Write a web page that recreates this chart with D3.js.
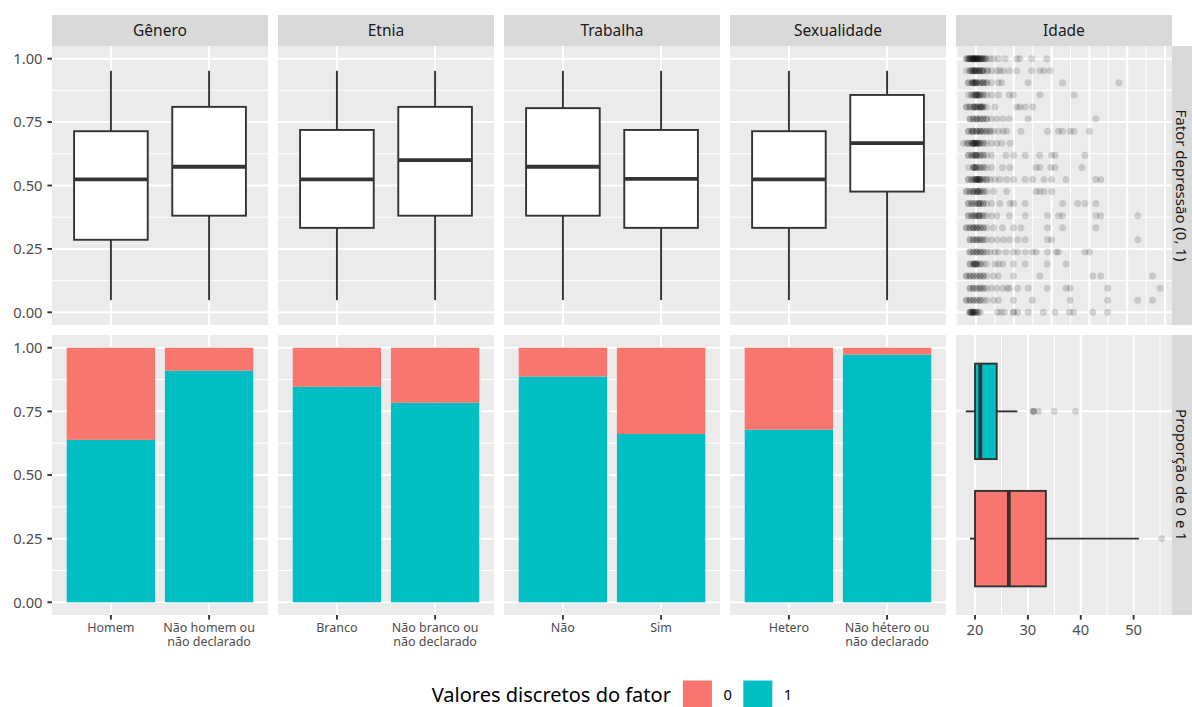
<!DOCTYPE html>
<html>
<head>
<meta charset="utf-8">
<script src="https://cdn.jsdelivr.net/npm/d3@7/dist/d3.min.js"></script>
<style>
  body { margin: 0; background: #ffffff; }
  text { font-family: "Noto Sans", "Open Sans", sans-serif; }
</style>
</head>
<body>
<div id="chart"></div>
<script>
/////////////////// Dados ///////////////////

var fatores = ["Gênero", "Etnia", "Trabalha", "Sexualidade"];
var categorias = [
  ["Homem", "Não homem ou\nnão declarado"],
  ["Branco", "Não branco ou\nnão declarado"],
  ["Não", "Sim"],
  ["Hetero", "Não hétero ou\nnão declarado"]
];

// boxplots do fator depressão: [min, q1, mediana, q3, max]
var boxGenero      = [[0.048, 0.286, 0.524, 0.714, 0.952], [0.048, 0.381, 0.574, 0.810, 0.952]];
var boxEtnia       = [[0.048, 0.333, 0.524, 0.719, 0.952], [0.048, 0.381, 0.600, 0.810, 0.952]];
var boxTrabalha    = [[0.048, 0.381, 0.574, 0.805, 0.952], [0.048, 0.333, 0.526, 0.719, 0.952]];
var boxSexualidade = [[0.048, 0.333, 0.524, 0.714, 0.952], [0.048, 0.476, 0.667, 0.857, 0.952]];

// proporção de 1 em cada categoria
var prop1Genero      = [0.638, 0.910];
var prop1Etnia       = [0.847, 0.784];
var prop1Trabalha    = [0.887, 0.661];
var prop1Sexualidade = [0.678, 0.973];

// idade por valor discreto do fator: [min, q1, mediana, q3, max]
var idadeBox1 = [18.26, 20.0, 21.0, 24.1, 28.0];
var idadeOut1 = [31.0, 31.0, 31.1, 32.0, 35.0, 39.0];
var idadeBox0 = [19.05, 20.0, 26.4, 33.4, 51.0];
var idadeOut0 = [55.3];
var idadeLimites = [18.26, 55.4];
var idadeTicks = [20, 30, 40, 50];

// dispersão idade x fator: k = nível (fator = k/21), nucleo = [idade, n], dispersos = idades
var idadeTopoLimites = [17.3, 69.25];
var idadePontos = [
  {k: 21, nucleo: [[17.5,2],[18.0,2],[18.4,3],[18.9,3],[19.3,4],[19.7,4],[20.2,4],[20.6,3],[21.1,3],[21.5,2],[21.9,2],[22.4,2],[22.8,1],[23.7,1],[24.6,1],[25.9,1],[27.7,1]], dispersos: [30.8,31.6,34.7,38.7]},
  {k: 20, nucleo: [[17.5,1],[18.4,2],[18.9,2],[19.3,2],[19.7,3],[20.2,3],[20.9,3],[21.5,2],[21.9,2],[23.0,2],[24.1,1],[25.5,1],[26.3,1],[27.2,1]], dispersos: [28.8,30.8,34.7,36.9,38.0,39.6]},
  {k: 19, nucleo: [[18.0,2],[18.9,2],[19.3,2],[19.7,3],[20.2,3],[21.1,2],[21.9,3],[22.8,2],[24.1,1],[25.9,1],[26.8,1]], dispersos: [33.8,42.9,57.8]},
  {k: 18, nucleo: [[18.0,1],[18.9,2],[19.7,3],[20.2,3],[20.6,2],[21.1,2],[21.9,2],[22.8,1],[24.1,1]], dispersos: [25.9,28.8,29.9,36.9,45.9]},
  {k: 17, nucleo: [[17.5,2],[18.4,2],[19.3,2],[19.7,2],[20.2,3],[21.1,3],[21.5,2],[21.9,2],[22.8,1]], dispersos: [25.0,30.8,31.6,33.0,35.0]},
  {k: 16, nucleo: [[18.4,2],[19.3,2],[20.2,3],[21.1,2],[21.9,2],[22.8,2],[24.1,1],[25.5,1]], dispersos: [27.1,28.8,33.8,51.7]},
  {k: 15, nucleo: [[18.0,2],[18.9,2],[19.3,2],[20.2,3],[21.1,3],[21.9,2],[22.8,2],[23.7,2],[24.6,1],[25.9,1],[27.2,1]], dispersos: [28.1,31.9,38.9,41.8,42.9,44.9,45.9,50.0]},
  {k: 14, nucleo: [[16.6,1],[17.5,1],[18.0,2],[18.9,2],[19.3,3],[19.7,3],[20.2,3],[20.6,2],[21.1,2],[21.9,2],[22.8,1],[24.1,1],[25.5,1]], dispersos: [26.8,29.0]},
  {k: 13, nucleo: [[18.0,2],[18.9,2],[19.7,3],[20.2,3],[21.1,2],[21.9,2],[22.8,1],[24.1,1]], dispersos: [27.9,29.9,33.0,36.8,40.0,40.9,48.8]},
  {k: 12, nucleo: [[18.0,1],[19.3,2],[19.7,3],[20.2,2],[21.1,2],[21.9,2],[22.8,1],[24.1,1]], dispersos: [27.0,29.0,35.9,36.9,39.8,40.9,48.0]},
  {k: 11, nucleo: [[18.0,2],[18.9,2],[19.7,3],[20.2,3],[20.6,3],[21.1,3],[21.9,2],[22.8,2],[23.7,1],[25.0,1],[26.3,1],[28.1,1]], dispersos: [29.9,33.0,35.0,38.0,40.0,43.8,51.7,53.0]},
  {k: 10, nucleo: [[17.5,2],[18.4,2],[19.3,3],[20.2,3],[20.6,2],[21.1,2],[21.9,2],[22.8,1],[24.6,1]], dispersos: [28.1,35.9,36.9,38.0,40.0]},
  {k: 9,  nucleo: [[18.0,2],[18.9,2],[19.7,2],[20.6,3],[21.1,2],[21.9,2],[22.8,1],[24.1,1],[26.3,1]], dispersos: [29.0,29.9,33.0,42.9,46.9,48.8,51.7]},
  {k: 8,  nucleo: [[18.0,2],[18.9,2],[19.7,3],[20.6,3],[21.1,2],[21.9,2],[22.8,1],[24.1,1],[25.5,1]], dispersos: [28.8,33.0,38.9,41.8,42.9,51.7,53.0,62.8]},
  {k: 7,  nucleo: [[17.5,2],[18.4,2],[19.3,3],[20.2,3],[21.1,2],[21.9,2],[22.8,1],[24.6,1]], dispersos: [27.0,29.9,31.9,38.9,42.9,51.7]},
  {k: 6,  nucleo: [[18.4,2],[19.3,2],[20.2,3],[21.1,2],[21.9,2],[22.8,1],[24.1,1],[25.5,1],[27.2,1]], dispersos: [28.8,31.0,33.0,38.9,40.0,62.8]},
  {k: 5,  nucleo: [[18.4,2],[19.3,2],[20.2,3],[21.1,2],[21.9,2],[22.8,1],[23.7,1],[25.0,1]], dispersos: [25.9,27.9,29.9,31.0,33.0,34.9,35.9,38.9,41.2,41.8,48.8,50.0]},
  {k: 4,  nucleo: [[18.4,2],[19.3,2],[19.7,3],[20.2,3],[21.1,2],[21.9,1],[22.8,1],[25.0,1]], dispersos: [25.9,27.1,29.9,33.0,38.9,43.8]},
  {k: 3,  nucleo: [[17.5,2],[18.4,2],[19.3,2],[20.2,2],[21.1,2],[21.9,2],[22.8,1],[24.6,1]], dispersos: [25.9,29.9,36.9,50.9,53.0,66.7]},
  {k: 2,  nucleo: [[18.4,2],[19.3,2],[20.2,2],[21.1,2],[21.9,2],[22.8,1],[24.1,1],[25.5,1]], dispersos: [27.1,28.3,28.8,31.0,33.8,38.9,43.8,44.9,54.8,68.7]},
  {k: 1,  nucleo: [[17.5,2],[18.4,2],[19.3,2],[20.2,2],[21.1,2],[21.9,1],[22.8,1],[24.6,1]], dispersos: [25.9,29.9,34.9,44.9,54.8,62.8,66.7]},
  {k: 0,  nucleo: [[18.4,3],[18.9,3],[19.3,3],[19.7,2],[20.2,2],[20.6,1],[21.1,1]], dispersos: [25.7,26.6,27.5,29.9,29.9,31.0,33.8,37.8,40.9,44.7,45.8,50.9,54.8]}
];

var yTicks = [0, 0.25, 0.5, 0.75, 1];
var yTickLabels = ["0.00", "0.25", "0.50", "0.75", "1.00"];
var yMinor = [0.125, 0.375, 0.625, 0.875];
var linhas = ["Fator depressão (0, 1)", "Proporção de 0 e 1"];
var legendaTitulo = "Valores discretos do fator";
var legendaNiveis = ["0", "1"];
var cores = {"0": "#F8766D", "1": "#00BFC4"};

var boxes = [boxGenero, boxEtnia, boxTrabalha, boxSexualidade];
var props = [prop1Genero, prop1Etnia, prop1Trabalha, prop1Sexualidade];

/////////////////// Layout ///////////////////

var W = 1192, H = 707;
var colX = [52, 278, 504, 730, 956], colW = 216;
var topY0 = 46, topY1 = 325, botY0 = 335, botY1 = 615;
var stripY0 = 15, stripRX = 1172, stripRW = 31;
var bgCol = "#EBEBEB", stripCol = "#D9D9D9", inkCol = "#333333", axisTxt = "#4D4D4D";
var majW = 2, minW = 1;

var svg = d3.select("#chart").append("svg")
  .attr("width", W).attr("height", H)
  .style("display", "block");

var yTop = d3.scaleLinear().domain([-0.05, 1.05]).range([topY1, topY0]);
var yBot = d3.scaleLinear().domain([-0.05, 1.05]).range([botY1, botY0]);

function expand(lim) {
  var d = (lim[1] - lim[0]) * 0.05;
  return [lim[0] - d, lim[1] + d];
}

function panelBg(x0, y0, x1, y1) {
  svg.append("rect").attr("x", x0).attr("y", y0)
    .attr("width", x1 - x0).attr("height", y1 - y0).attr("fill", bgCol);
}

function hLines(x0, x1, ys, w) {
  ys.forEach(function(y) {
    svg.append("line").attr("x1", x0).attr("x2", x1).attr("y1", y).attr("y2", y)
      .attr("stroke", "#fff").attr("stroke-width", w);
  });
}

function vLines(y0, y1, xs, w) {
  xs.forEach(function(x) {
    svg.append("line").attr("x1", x).attr("x2", x).attr("y1", y0).attr("y2", y1)
      .attr("stroke", "#fff").attr("stroke-width", w);
  });
}

function vBox(x, w, s, y) {
  var g = svg.append("g");
  g.append("line").attr("x1", x).attr("x2", x).attr("y1", y(s[0])).attr("y2", y(s[1]))
    .attr("stroke", inkCol).attr("stroke-width", 1.9);
  g.append("line").attr("x1", x).attr("x2", x).attr("y1", y(s[3])).attr("y2", y(s[4]))
    .attr("stroke", inkCol).attr("stroke-width", 1.9);
  g.append("rect").attr("x", x - w / 2).attr("y", y(s[3]))
    .attr("width", w).attr("height", y(s[1]) - y(s[3]))
    .attr("fill", "#fff").attr("stroke", inkCol).attr("stroke-width", 1.9);
  g.append("line").attr("x1", x - w / 2).attr("x2", x + w / 2).attr("y1", y(s[2])).attr("y2", y(s[2]))
    .attr("stroke", inkCol).attr("stroke-width", 3.8);
}

function hBox(y, h, s, x, fill, out) {
  var g = svg.append("g");
  g.append("line").attr("y1", y).attr("y2", y).attr("x1", x(s[0])).attr("x2", x(s[1]))
    .attr("stroke", inkCol).attr("stroke-width", 1.9);
  g.append("line").attr("y1", y).attr("y2", y).attr("x1", x(s[3])).attr("x2", x(s[4]))
    .attr("stroke", inkCol).attr("stroke-width", 1.9);
  g.append("rect").attr("y", y - h / 2).attr("x", x(s[1]))
    .attr("height", h).attr("width", x(s[3]) - x(s[1]))
    .attr("fill", fill).attr("stroke", inkCol).attr("stroke-width", 1.9);
  g.append("line").attr("y1", y - h / 2).attr("y2", y + h / 2).attr("x1", x(s[2])).attr("x2", x(s[2]))
    .attr("stroke", inkCol).attr("stroke-width", 3.8);
  g.selectAll("circle.out").data(out).enter().append("circle")
    .attr("cx", function(d) { return x(d); }).attr("cy", y).attr("r", 3.4)
    .attr("fill", "#000").attr("fill-opacity", 0.15);
}

function strip(x, y, w, h, label, rot) {
  svg.append("rect").attr("x", x).attr("y", y).attr("width", w).attr("height", h).attr("fill", stripCol);
  var t = svg.append("text").text(label)
    .attr("font-size", 15.5).attr("fill", "#1A1A1A").attr("text-anchor", "middle")
    .attr("dy", "0.35em");
  if (rot) {
    t.attr("font-size", 15).attr("transform", "translate(" + (x + 9.5) + "," + (y + h / 2) + ") rotate(90)");
  } else {
    t.attr("x", x + w / 2).attr("y", y + h / 2);
  }
}

/////////////////// Painéis dos fatores ///////////////////

fatores.forEach(function(f, i) {
  var x0 = colX[i], x1 = x0 + colW;
  var xs = d3.scalePoint().domain(categorias[i]).range([x0, x1]).padding(0.6);
  var step = xs.step();
  var cx = categorias[i].map(function(c) { return xs(c); });

  strip(x0, stripY0, colW, topY0 - stripY0, f, false);

  // linha de cima: boxplots
  panelBg(x0, topY0, x1, topY1);
  hLines(x0, x1, yMinor.map(yTop), minW);
  hLines(x0, x1, yTicks.map(yTop), majW);
  vLines(topY0, topY1, cx, majW);
  categorias[i].forEach(function(c, j) {
    vBox(xs(c), step * 0.75, boxes[i][j], yTop);
  });

  // linha de baixo: barras empilhadas
  panelBg(x0, botY0, x1, botY1);
  hLines(x0, x1, yMinor.map(yBot), minW);
  hLines(x0, x1, yTicks.map(yBot), majW);
  vLines(botY0, botY1, cx, majW);
  categorias[i].forEach(function(c, j) {
    var p = props[i][j], bw = step * 0.9;
    svg.append("rect").attr("x", xs(c) - bw / 2).attr("width", bw)
      .attr("y", yBot(p)).attr("height", yBot(0) - yBot(p)).attr("fill", cores["1"]);
    svg.append("rect").attr("x", xs(c) - bw / 2).attr("width", bw)
      .attr("y", yBot(1)).attr("height", yBot(p) - yBot(1)).attr("fill", cores["0"]);
  });

  // eixo x
  categorias[i].forEach(function(c) {
    svg.append("line").attr("x1", xs(c)).attr("x2", xs(c)).attr("y1", botY1).attr("y2", botY1 + 4.6)
      .attr("stroke", inkCol).attr("stroke-width", 1.9);
    c.split("\n").forEach(function(l, k) {
      svg.append("text").attr("text-anchor", "middle").attr("font-size", 12.5).attr("fill", axisTxt)
        .attr("x", xs(c)).attr("y", 632 + k * 14).text(l);
    });
  });
});

/////////////////// Painéis da idade ///////////////////

var ix0 = colX[4], ix1 = ix0 + colW;
strip(ix0, stripY0, colW, topY0 - stripY0, "Idade", false);

// dispersão
var xTopo = d3.scaleLinear().domain(expand(idadeTopoLimites)).range([ix0, ix1]);
panelBg(ix0, topY0, ix1, topY1);
hLines(ix0, ix1, yMinor.map(yTop), minW);
hLines(ix0, ix1, yTicks.map(yTop), majW);
var topoMaj = xTopo.ticks(6);
var topoMin = d3.range(topoMaj[0] - 5, xTopo.domain()[1], 10).filter(function(v) {
  return v > xTopo.domain()[0];
});
vLines(topY0, topY1, topoMin.map(xTopo), minW);
vLines(topY0, topY1, topoMaj.map(xTopo), majW);

var pontos = [];
idadePontos.forEach(function(r) {
  r.nucleo.forEach(function(p) {
    for (var n = 0; n < p[1]; n++) pontos.push({idade: p[0], fator: r.k / 21});
  });
  r.dispersos.forEach(function(a) { pontos.push({idade: a, fator: r.k / 21}); });
});
svg.append("g").selectAll("circle").data(pontos).enter().append("circle")
  .attr("cx", function(d) { return xTopo(d.idade); })
  .attr("cy", function(d) { return yTop(d.fator); })
  .attr("r", 3.5).attr("fill", "#000").attr("fill-opacity", 0.15);

// boxplots horizontais
var xIdade = d3.scaleLinear().domain(expand(idadeLimites)).range([ix0, ix1]);
var yIdade = d3.scalePoint().domain(["1", "0"]).range([botY0, botY1]).padding(0.6);
panelBg(ix0, botY0, ix1, botY1);
hLines(ix0, ix1, ["1", "0"].map(yIdade), majW);
var idadeMin = d3.range(15, 60, 10).filter(function(v) {
  return v > xIdade.domain()[0] && v < xIdade.domain()[1];
});
vLines(botY0, botY1, idadeMin.map(xIdade), minW);
vLines(botY0, botY1, idadeTicks.map(xIdade), majW);
hBox(yIdade("1"), yIdade.step() * 0.75, idadeBox1, xIdade, cores["1"], idadeOut1);
hBox(yIdade("0"), yIdade.step() * 0.75, idadeBox0, xIdade, cores["0"], idadeOut0);

idadeTicks.forEach(function(v) {
  svg.append("line").attr("x1", xIdade(v)).attr("x2", xIdade(v)).attr("y1", botY1).attr("y2", botY1 + 4.6)
    .attr("stroke", inkCol).attr("stroke-width", 1.9);
  svg.append("text").attr("x", xIdade(v)).attr("y", 635).attr("text-anchor", "middle")
    .attr("font-size", 14.7).attr("fill", axisTxt).text(v);
});

/////////////////// Eixo y e faixas laterais ///////////////////

[yTop, yBot].forEach(function(y) {
  yTicks.forEach(function(v, k) {
    svg.append("line").attr("x1", colX[0] - 4.6).attr("x2", colX[0]).attr("y1", y(v)).attr("y2", y(v))
      .attr("stroke", inkCol).attr("stroke-width", 1.9);
    svg.append("text").attr("x", colX[0] - 9.5).attr("y", y(v)).attr("dy", "0.36em")
      .attr("text-anchor", "end").attr("font-size", 14.7).attr("fill", axisTxt)
      .text(yTickLabels[k]);
  });
});

strip(stripRX, topY0, stripRW, topY1 - topY0, linhas[0], true);
strip(stripRX, botY0, stripRW, botY1 - botY0, linhas[1], true);

/////////////////// Legenda ///////////////////

var leg = svg.append("g");
var legY = 695;
var tt = leg.append("text").attr("y", legY).attr("dy", "0.35em")
  .attr("font-size", 20).attr("fill", "#000").text(legendaTitulo);
var tw = tt.node().getComputedTextLength();
var keyW = 29, pos = tw + 12;
legendaNiveis.forEach(function(n) {
  leg.append("rect").attr("x", pos).attr("y", legY - keyW / 2).attr("width", keyW).attr("height", keyW)
    .attr("fill", cores[n]);
  pos += keyW + 11.5;
  var lt = leg.append("text").attr("x", pos).attr("y", legY).attr("dy", "0.35em")
    .attr("font-size", 14.7).attr("fill", "#000").text(n);
  pos += lt.node().getComputedTextLength() + 11.5;
});
pos -= 11.5;
leg.attr("transform", "translate(" + ((colX[0] + colX[4] + colW) / 2 - pos / 2) + ",0)");
</script>
</body>
</html>
